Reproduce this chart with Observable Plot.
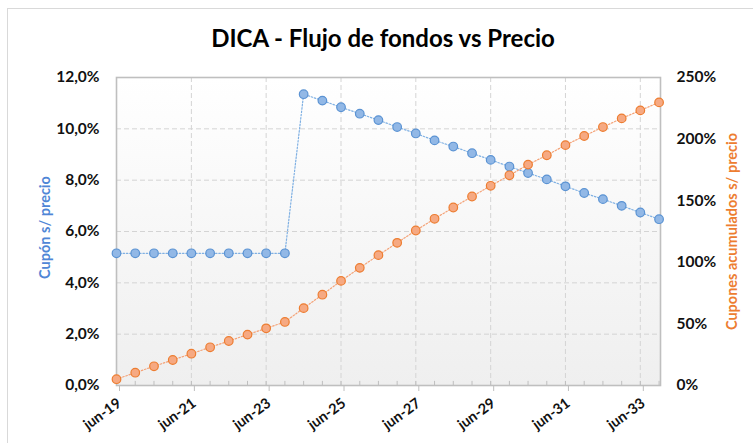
<!DOCTYPE html>
<html><head><meta charset="utf-8">
<script src="https://cdn.jsdelivr.net/npm/d3@7"></script>
<script src="https://cdn.jsdelivr.net/npm/@observablehq/plot@0.6"></script>
<style>
body{margin:0;background:#fff;font-family:Lato,"Open Sans",sans-serif;}
#wrap{position:relative;width:753px;height:443px;overflow:hidden;background:#fff;}
#border{position:absolute;left:7px;top:8px;width:800px;height:500px;border:1px solid #d9d9d9;}
#title{position:absolute;left:0;top:24px;width:766px;text-align:center;font-weight:bold;font-size:24px;line-height:1.2;color:#000;font-family:Lato,sans-serif;}
#chart{position:absolute;left:0;top:62px;}
</style></head><body>
<div id="wrap"><div id="border"></div><div id="title">DICA - Flujo de fondos vs Precio</div><div id="chart"></div></div>
<script>
// Semi-annual payment dates
const periods = ["2019-06-01","2019-12-01","2020-06-01","2020-12-01","2021-06-01","2021-12-01",
  "2022-06-01","2022-12-01","2023-06-01","2023-12-01","2024-06-01","2024-12-01",
  "2025-06-01","2025-12-01","2026-06-01","2026-12-01","2027-06-01","2027-12-01",
  "2028-06-01","2028-12-01","2029-06-01","2029-12-01","2030-06-01","2030-12-01",
  "2031-06-01","2031-12-01","2032-06-01","2032-12-01","2033-06-01","2033-12-01"];
// Cupón s/ precio (%), left axis
const cupon = [5.15,5.15,5.15,5.15,5.15,5.15,5.15,5.15,5.15,5.15,
  11.35,11.10,10.84,10.59,10.34,10.07,9.82,9.55,9.31,9.05,
  8.79,8.53,8.28,8.03,7.76,7.50,7.26,7.00,6.74,6.48];
// Cupones acumulados s/ precio (%), right axis
const acumulado = [5.1,10.4,15.6,20.7,25.8,31.0,36.1,41.3,46.4,51.6,
  62.8,73.7,84.9,95.5,105.8,115.8,125.8,135.3,144.5,153.4,
  162.1,170.6,179.3,186.9,195.1,202.5,209.8,216.8,223.3,229.8];
// Tick labels
const xTickLabels = ["jun-19","jun-21","jun-23","jun-25","jun-27","jun-29","jun-31","jun-33"];
const leftTicks = [0, 2, 4, 6, 8, 10, 12];
const rightTicks = [0, 50, 100, 150, 200, 250];
const titleLeft = "Cupón s/ precio";
const titleRight = "Cupones acumulados s/ precio";

const k = 12 / 250; // right-axis value -> left-axis units
const dates = periods.map(s => new Date(s));
const xTicks = xTickLabels.map(s => new Date(Date.UTC(2000 + +s.slice(4), 5, 1)));
const dataBlue = dates.map((d, i) => ({x: d, y: cupon[i]}));
const dataOrange = dates.map((d, i) => ({x: d, y: acumulado[i] * k}));

const BLUE_TXT = "#4f86d6", ORANGE_TXT = "#ed7d31";
const grid = {stroke: "#d4d4d4", strokeOpacity: 1, strokeDasharray: "5,3", strokeWidth: 1};

const chart = Plot.plot({
  width: 753, height: 381,
  marginTop: 15, marginBottom: 58, marginLeft: 116, marginRight: 93,
  style: {fontFamily: "Lato, sans-serif", fontSize: "14px", color: "#111", background: "transparent"},
  x: {type: "utc", domain: [new Date("2019-06-01"), new Date("2033-12-15")]},
  y: {domain: [0, 12]},
  marks: [
    Plot.frame({fill: "url(#plotbg)", stroke: null}),
    Plot.gridY(leftTicks.slice(1, -1), grid),
    Plot.gridX(xTicks.slice(1), grid),
    Plot.ruleX(dates, {x: d => d, y1: 0, y2: 0.16, stroke: "#bfbfbf", strokeWidth: 1}),
    Plot.frame({stroke: "#bfbfbf", strokeWidth: 1.6}),
    Plot.axisX(xTicks, {
      anchor: "bottom", tickSize: 6, tickPadding: 10, tickRotate: -36,
      tickFormat: (d, i) => xTickLabels[i], fontSize: 14.5, fontWeight: "bold",
      stroke: "#bfbfbf", fill: "#111", label: null, dx: 3
    }),
    Plot.axisY(leftTicks, {
      anchor: "left", tickSize: 0, tickPadding: 17,
      tickFormat: d => d.toFixed(1).replace(".", ",") + "%",
      fontSize: 15.5, fontWeight: "bold", fill: "#111", label: null
    }),
    Plot.axisY(rightTicks.map(v => v * k), {
      anchor: "right", tickSize: 0, tickPadding: 16,
      tickFormat: (d, i) => rightTicks[i] + "%",
      fontSize: 15.5, fontWeight: "bold", fill: "#111", label: null
    }),
    Plot.line(dataBlue, {x: "x", y: "y", stroke: "#7fb0e3", strokeWidth: 1.2, strokeDasharray: "1.5,1.8"}),
    Plot.dot(dataBlue, {x: "x", y: "y", r: 4.3, fill: "#92b8e6", stroke: "#5b93d3", strokeWidth: 1.2}),
    Plot.line(dataOrange, {x: "x", y: "y", stroke: "#f4a277", strokeWidth: 1.2, strokeDasharray: "1.5,1.8"}),
    Plot.dot(dataOrange, {x: "x", y: "y", r: 4.3, fill: "#f6a982", stroke: "#ed7d31", strokeWidth: 1.2}),
    Plot.text([titleLeft], {frameAnchor: "left", dx: -71, dy: -4, rotate: -90, textAnchor: "middle",
      fill: BLUE_TXT, fontWeight: "bold", fontSize: 14.5, text: d => d}),
    Plot.text([titleRight], {frameAnchor: "right", dx: 72, rotate: -90, textAnchor: "middle",
      fill: ORANGE_TXT, fontWeight: "bold", fontSize: 14.5, text: d => d})
  ]
});

const defs = d3.select(chart).insert("defs", ":first-child");
const g = defs.append("linearGradient").attr("id", "plotbg").attr("x1", 0).attr("y1", 0).attr("x2", 0).attr("y2", 1);
g.append("stop").attr("offset", "0%").attr("stop-color", "#ffffff");
g.append("stop").attr("offset", "100%").attr("stop-color", "#efefef");

document.getElementById("chart").appendChild(chart);
</script>
</body></html>
